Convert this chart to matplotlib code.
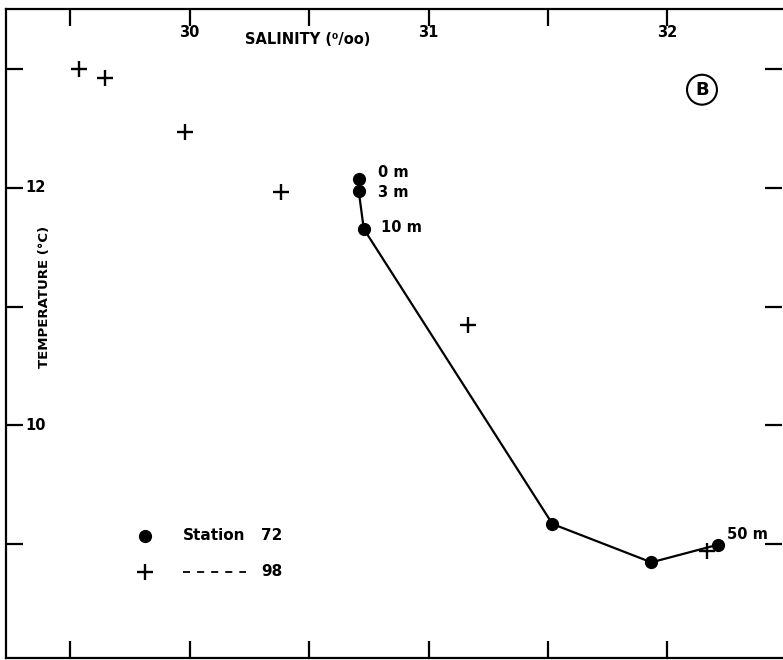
import numpy as np
import matplotlib.pyplot as plt

# Station 72 (dots, joined by a line), depth labels for some points
sal_72 = [30.708, 30.708, 30.729, 31.519, 31.933, 32.213]
temp_72 = [12.078, 11.971, 11.655, 9.169, 8.846, 8.995]
depth_72 = ['0 m', '3 m', '10 m', '', '', '50 m']
# label offsets (salinity, temperature) from each point
label_dx = [0.079, 0.079, 0.071, 0, 0, 0.035]
label_dy = [0.05, -0.01, 0.01, 0, 0, 0.085]

# Station 98 (crosses)
sal_98 = [29.536, 29.645, 29.982, 30.381, 31.167, 32.165]
temp_98 = [13.003, 12.927, 12.472, 11.963, 10.848, 8.938]

x_ticks = [29.5, 30, 30.5, 31, 31.5, 32]
x_labels = ['', '30', '', '31', '', '32']
y_ticks = [9, 10, 11, 12, 13]
y_labels = ['', '10', '', '12', '']

plt.rcParams['font.family'] = ['DejaVu Sans']
fig = plt.figure(figsize=(7.83, 6.60), dpi=100)
ax = fig.add_axes([6 / 783, 2 / 660, 776 / 783, 649 / 660])
ax.set_xlim(29.231, 32.48)
ax.set_ylim(8.04, 13.508)

for s in ax.spines.values():
    s.set_linewidth(1.6)
ax.spines['right'].set_visible(False)

# ticks: inward on all four sides, labels inside the frame
ax.xaxis.set_ticks_position('both')
ax.yaxis.set_ticks_position('both')
ax.set_xticks(x_ticks)
ax.set_xticklabels([])
ax.set_yticks(y_ticks)
ax.set_yticklabels([])
ax.tick_params(axis='both', direction='in', length=12, width=1.6)

for x, lab in zip(x_ticks, x_labels):
    if lab:
        ax.text(x, 13.31, lab, ha='center', va='center', fontsize=10.5, fontweight='bold')
for y, lab in zip(y_ticks, y_labels):
    if lab:
        ax.text(29.31, y, lab, ha='left', va='center', fontsize=10.5, fontweight='bold')

ax.text(30.23, 13.25, 'SALINITY (\u2070/oo)', ha='left', va='center', fontsize=10.5, fontweight='bold')
ax.text(29.394, 11.084, 'TEMPERATURE (\u00b0C)', rotation=90, ha='center', va='center',
        fontsize=9.5, fontweight='bold')

# data
ax.plot(sal_72, temp_72, color='black', lw=1.6, marker='o', ms=8.5, zorder=3)
ax.plot(sal_98, temp_98, ls='none', color='black', marker='+', ms=11, mew=1.7, zorder=4)

for s, t, d, dx, dy in zip(sal_72, temp_72, depth_72, label_dx, label_dy):
    if d:
        ax.text(s + dx, t + dy, d, ha='left', va='center', fontsize=10.5, fontweight='bold')

# legend drawn by hand
ax.plot([29.812], [9.071], 'o', color='black', ms=8.5)
ax.text(29.97, 9.071, 'Station', ha='left', va='center', fontsize=11, fontweight='bold')
ax.text(30.30, 9.071, '72', ha='left', va='center', fontsize=11, fontweight='bold')
ax.plot([29.812], [8.765], '+', color='black', ms=11, mew=1.7)
ax.plot([29.97, 30.235], [8.765, 8.765], color='black', lw=1.3, ls=(0, (3.9, 3.9)))
ax.text(30.30, 8.765, '98', ha='left', va='center', fontsize=11, fontweight='bold')

# circled B
ax.text(32.145, 12.828, 'B', ha='center', va='center', fontsize=13, fontweight='bold',
        bbox=dict(boxstyle='circle,pad=0.33', fc='white', ec='black', lw=1.5))

fig.savefig('out.png', dpi=100)
